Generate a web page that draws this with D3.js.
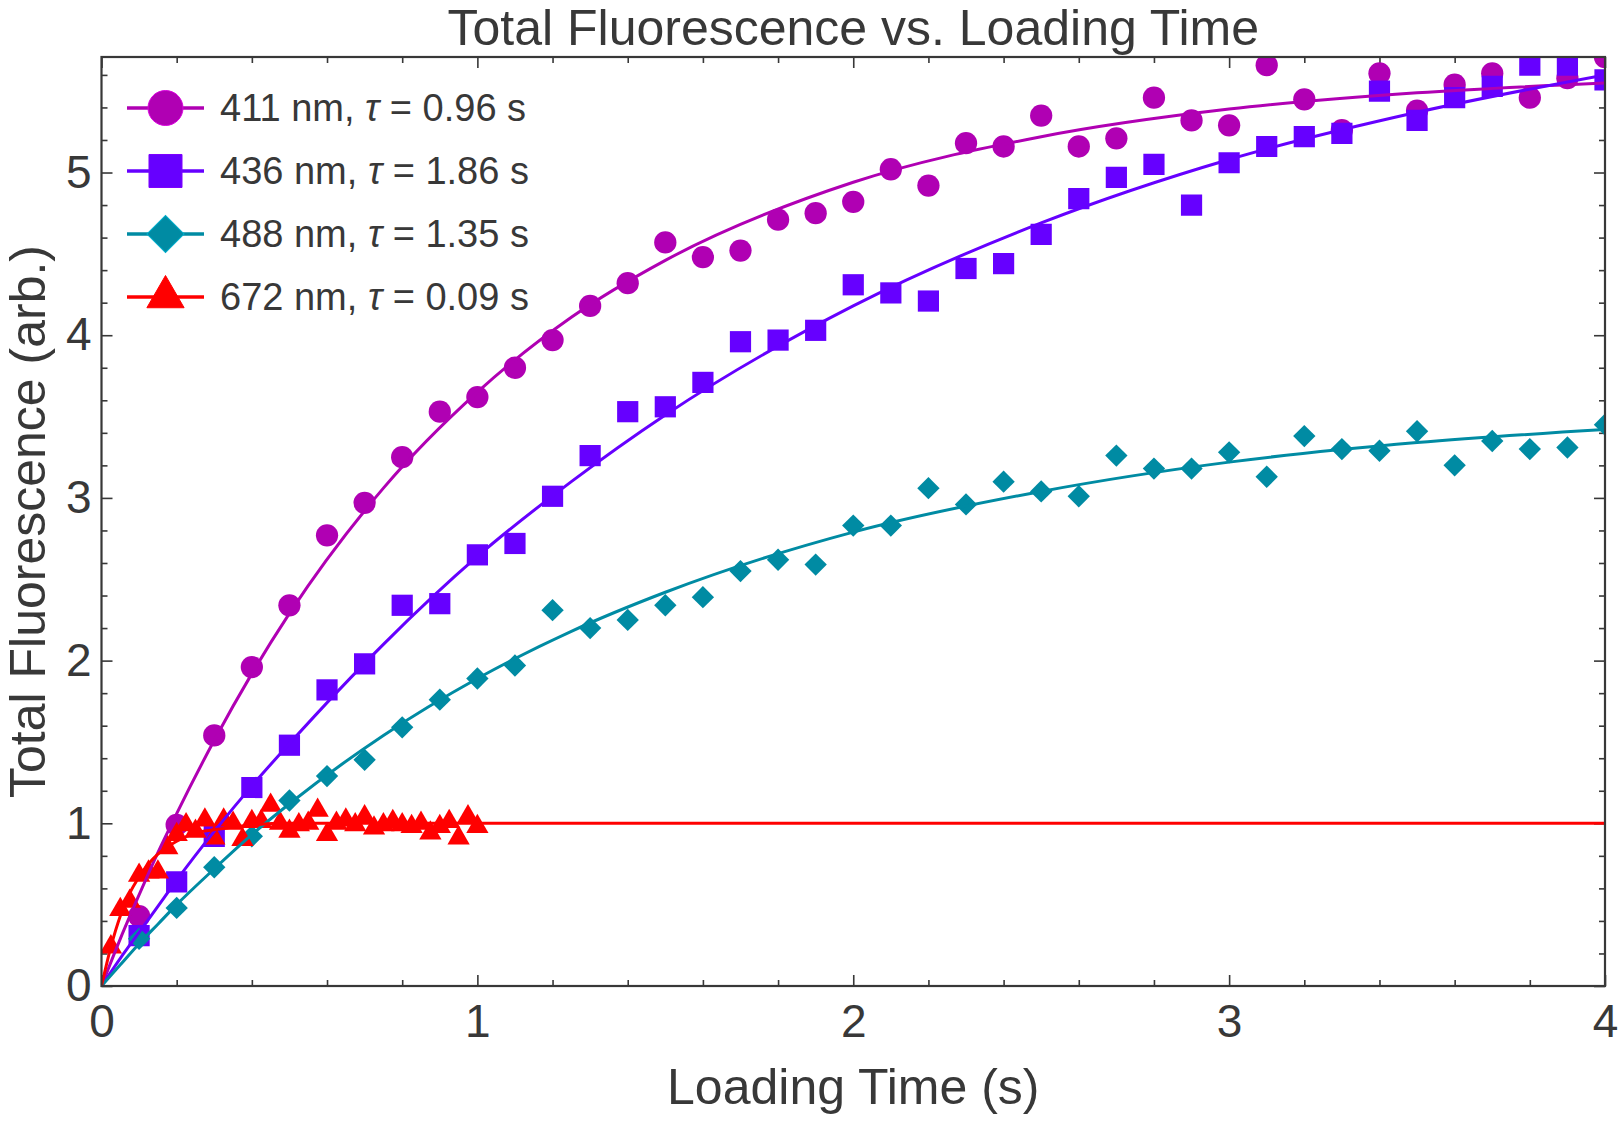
<!DOCTYPE html>
<html>
<head>
<meta charset="utf-8">
<script src="https://cdn.jsdelivr.net/npm/d3@7"></script>
<style>
  html, body { margin: 0; padding: 0; background: #fff; }
  svg { display: block; font-family: 'Liberation Sans', Arial, sans-serif; }
</style>
</head>
<body>
<div id="chart"></div>
<script>
// sample times (s) for the 411 / 436 / 488 nm runs
const times = [0.1, 0.2, 0.3, 0.4, 0.5, 0.6, 0.7, 0.8, 0.9, 1.0,
    1.1, 1.2, 1.3, 1.4, 1.5, 1.6, 1.7, 1.8, 1.9, 2.0,
    2.1, 2.2, 2.3, 2.4, 2.5, 2.6, 2.7, 2.8, 2.9, 3.0,
    3.1, 3.2, 3.3, 3.4, 3.5, 3.6, 3.7, 3.8, 3.9, 4.0];

const v411 = [0.43, 0.99, 1.54, 1.96, 2.34, 2.77, 2.97, 3.25, 3.53, 3.62,
    3.80, 3.97, 4.18, 4.32, 4.57, 4.48, 4.52, 4.71, 4.75, 4.82,
    5.02, 4.92, 5.18, 5.16, 5.35, 5.16, 5.21, 5.46, 5.32, 5.29,
    5.66, 5.45, 5.26, 5.61, 5.38, 5.54, 5.61, 5.46, 5.58, 5.71];

const v436 = [0.31, 0.64, 0.92, 1.22, 1.48, 1.82, 1.98, 2.34, 2.35, 2.65,
    2.72, 3.01, 3.26, 3.53, 3.56, 3.71, 3.96, 3.97, 4.03, 4.31,
    4.26, 4.21, 4.41, 4.44, 4.62, 4.84, 4.97, 5.05, 4.80, 5.06,
    5.16, 5.22, 5.24, 5.50, 5.32, 5.46, 5.53, 5.66, 5.66, 5.57];

const v488 = [0.29, 0.48, 0.73, 0.92, 1.14, 1.29, 1.39, 1.59, 1.76, 1.89,
    1.97, 2.31, 2.20, 2.25, 2.34, 2.39, 2.55, 2.62, 2.59, 2.83,
    2.83, 3.06, 2.96, 3.10, 3.04, 3.01, 3.26, 3.18, 3.18, 3.28,
    3.13, 3.38, 3.30, 3.29, 3.41, 3.20, 3.35, 3.30, 3.31, 3.45];

// 672 nm was sampled faster
const times672 = [0.025, 0.05, 0.075, 0.1, 0.125, 0.15, 0.175, 0.2, 0.225, 0.25,
    0.275, 0.3, 0.325, 0.35, 0.375, 0.4, 0.425, 0.45, 0.475, 0.5,
    0.525, 0.55, 0.575, 0.6, 0.625, 0.65, 0.675, 0.7, 0.725, 0.75,
    0.775, 0.8, 0.825, 0.85, 0.875, 0.9, 0.925, 0.95, 0.975, 1.0];

const v672 = [0.24, 0.47, 0.52, 0.68, 0.70, 0.70, 0.85, 0.93, 0.99, 0.95,
    1.02, 0.91, 1.02, 1.00, 0.90, 1.01, 1.01, 1.11, 1.00, 0.95,
    0.99, 1.00, 1.08, 0.93, 1.00, 1.02, 0.99, 1.04, 0.97, 0.99,
    1.01, 0.99, 0.98, 1.00, 0.94, 0.98, 1.01, 0.91, 1.04, 0.98];

const fitTimes = [0, 0.05, 0.1, 0.15, 0.2, 0.3, 0.4, 0.5, 0.75, 1, 1.25, 1.5, 2, 2.5, 3, 3.5, 4];
const fit411 = [0, 0.29, 0.56, 0.82, 1.06, 1.51, 1.92, 2.29, 3.06, 3.65, 4.11, 4.46, 4.94, 5.22, 5.39, 5.49, 5.55];
const fit436 = [0, 0.17, 0.33, 0.49, 0.65, 0.95, 1.23, 1.49, 2.10, 2.64, 3.10, 3.51, 4.18, 4.69, 5.08, 5.37, 5.60];
const fit488 = [0, 0.13, 0.26, 0.38, 0.50, 0.72, 0.93, 1.12, 1.54, 1.89, 2.18, 2.42, 2.79, 3.04, 3.22, 3.34, 3.42];
const fitTimes672 = [0, 0.025, 0.05, 0.075, 0.1, 0.125, 0.15, 0.2, 0.25, 0.3, 0.4, 0.5, 0.75, 1, 4];
const fit672 = [0, 0.24, 0.43, 0.57, 0.67, 0.75, 0.81, 0.89, 0.94, 0.96, 0.99, 1.00, 1.00, 1.00, 1.00];

const legendLabels = [['411 nm, ', ' = 0.96 s'], ['436 nm, ', ' = 1.86 s'],
    ['488 nm, ', ' = 1.35 s'], ['672 nm, ', ' = 0.09 s']];

const xMajor = [0, 1, 2, 3, 4];
const yMajor = [0, 1, 2, 3, 4, 5];

const series = [
    { t: times, v: v411, ft: fitTimes, fv: fit411, color: '#b000b3', shape: 'circle', size: 390, legSize: 960 },
    { t: times, v: v436, ft: fitTimes, fv: fit436, color: '#6600ff', shape: 'square', size: 450, legSize: 1090 },
    { t: times, v: v488, ft: fitTimes, fv: fit488, color: '#008ba3', shape: 'diamond', size: 250, legSize: 690 },
    { t: times672, v: v672, ft: fitTimes672, fv: fit672, color: '#ff0000', shape: 'triangle', size: 215, legSize: 600 }
];

const W = 1621, H = 1121;
const m = { left: 101.5, right: 1605, top: 57, bottom: 986 };
const ink = '#383838';

const svg = d3.select('#chart').append('svg')
    .attr('width', W)
    .attr('height', H);

svg.append('rect').attr('width', W).attr('height', H).attr('fill', '#fff');

const x = d3.scaleLinear().domain([0, 4]).range([m.left, m.right]);
const y = d3.scaleLinear().domain([0, 5.71]).range([m.bottom, m.top]);

svg.append('clipPath').attr('id', 'plot-clip')
    .append('rect')
    .attr('x', m.left).attr('y', m.top)
    .attr('width', m.right - m.left).attr('height', m.bottom - m.top);

function symbolPath(shape, size) {
    if (shape === 'circle') return d3.symbol(d3.symbolCircle, size)();
    if (shape === 'triangle') return d3.symbol(d3.symbolTriangle, size)();
    return d3.symbol(d3.symbolSquare, size)(); // diamond is a square turned 45deg
}

function symbolTransform(shape, px, py) {
    return shape === 'diamond' ? `translate(${px},${py}) rotate(45)` : `translate(${px},${py})`;
}

// axes: inward ticks on all four sides
function styleAxis(g) {
    g.select('.domain').remove();
    g.selectAll('line').attr('stroke', ink).attr('stroke-width', 1.6);
    g.selectAll('text').attr('fill', ink).attr('font-size', 46)
        .attr('font-family', "'Liberation Sans', Arial, sans-serif");
}

const xMinor = d3.range(0, 4.001, 0.2).filter(v => Math.abs(v - Math.round(v)) > 1e-6);
const yMinor = d3.range(0, 5.71, 0.2).filter(v => Math.abs(v - Math.round(v)) > 1e-6);

svg.append('g').attr('transform', `translate(0,${m.bottom})`)
    .call(d3.axisBottom(x).tickValues(xMajor).tickFormat(d3.format('d')).tickSize(-11).tickPadding(18))
    .call(styleAxis);
svg.append('g').attr('transform', `translate(0,${m.bottom})`)
    .call(d3.axisBottom(x).tickValues(xMinor).tickFormat('').tickSize(-6))
    .call(styleAxis);
svg.append('g').attr('transform', `translate(0,${m.top})`)
    .call(d3.axisTop(x).tickValues(xMajor).tickFormat('').tickSize(-11))
    .call(styleAxis);
svg.append('g').attr('transform', `translate(0,${m.top})`)
    .call(d3.axisTop(x).tickValues(xMinor).tickFormat('').tickSize(-6))
    .call(styleAxis);

svg.append('g').attr('transform', `translate(${m.left},0)`)
    .call(d3.axisLeft(y).tickValues(yMajor).tickFormat(d3.format('d')).tickSize(-11).tickPadding(10))
    .call(styleAxis);
svg.append('g').attr('transform', `translate(${m.left},0)`)
    .call(d3.axisLeft(y).tickValues(yMinor).tickFormat('').tickSize(-6))
    .call(styleAxis);
svg.append('g').attr('transform', `translate(${m.right},0)`)
    .call(d3.axisRight(y).tickValues(yMajor).tickFormat('').tickSize(-11))
    .call(styleAxis);
svg.append('g').attr('transform', `translate(${m.right},0)`)
    .call(d3.axisRight(y).tickValues(yMinor).tickFormat('').tickSize(-6))
    .call(styleAxis);

const plot = svg.append('g').attr('clip-path', 'url(#plot-clip)');

// points first, fit lines drawn on top
series.forEach(s => {
    const pts = s.t.map((t, i) => [t, s.v[i]]);
    plot.append('g').selectAll('path').data(pts).join('path')
        .attr('d', symbolPath(s.shape, s.size))
        .attr('transform', d => symbolTransform(s.shape, x(d[0]), y(d[1])))
        .attr('fill', s.color);
});

const line = d3.line()
    .x(d => x(d[0]))
    .y(d => y(d[1]))
    .curve(d3.curveMonotoneX);

series.forEach(s => {
    plot.append('path')
        .datum(s.ft.map((t, i) => [t, s.fv[i]]))
        .attr('d', line)
        .attr('fill', 'none')
        .attr('stroke', s.color)
        .attr('stroke-width', 3);
});

// frame
svg.append('rect')
    .attr('x', m.left).attr('y', m.top)
    .attr('width', m.right - m.left).attr('height', m.bottom - m.top)
    .attr('fill', 'none')
    .attr('stroke', ink)
    .attr('stroke-width', 2.2);

// legend
const legend = svg.append('g');
const rowY = [108, 171, 234, 297];
series.forEach((s, i) => {
    const row = legend.append('g').attr('transform', `translate(0,${rowY[i]})`);
    row.append('line')
        .attr('x1', 127).attr('x2', 204)
        .attr('stroke', s.color).attr('stroke-width', 3.5);
    row.append('path')
        .attr('d', symbolPath(s.shape, s.legSize))
        .attr('transform', symbolTransform(s.shape, 165.5, 0))
        .attr('fill', s.color)
        .attr('stroke', d3.color(s.color).brighter(0.6))
        .attr('stroke-width', 1);
    const txt = row.append('text')
        .attr('x', 220).attr('y', 13)
        .attr('font-size', 38)
        .attr('fill', ink);
    txt.append('tspan').text(legendLabels[i][0]);
    txt.append('tspan').attr('font-style', 'italic').text('τ');
    txt.append('tspan').text(legendLabels[i][1]);
});

// titles
svg.append('text')
    .attr('x', (m.left + m.right) / 2).attr('y', 45)
    .attr('text-anchor', 'middle')
    .attr('font-size', 50)
    .attr('fill', ink)
    .text('Total Fluorescence vs. Loading Time');

svg.append('text')
    .attr('x', (m.left + m.right) / 2).attr('y', 1104)
    .attr('text-anchor', 'middle')
    .attr('font-size', 50)
    .attr('fill', ink)
    .text('Loading Time (s)');

svg.append('text')
    .attr('transform', `translate(45,${(m.top + m.bottom) / 2}) rotate(-90)`)
    .attr('text-anchor', 'middle')
    .attr('font-size', 50)
    .attr('fill', ink)
    .text('Total Fluorescence (arb.)');
</script>
</body>
</html>
